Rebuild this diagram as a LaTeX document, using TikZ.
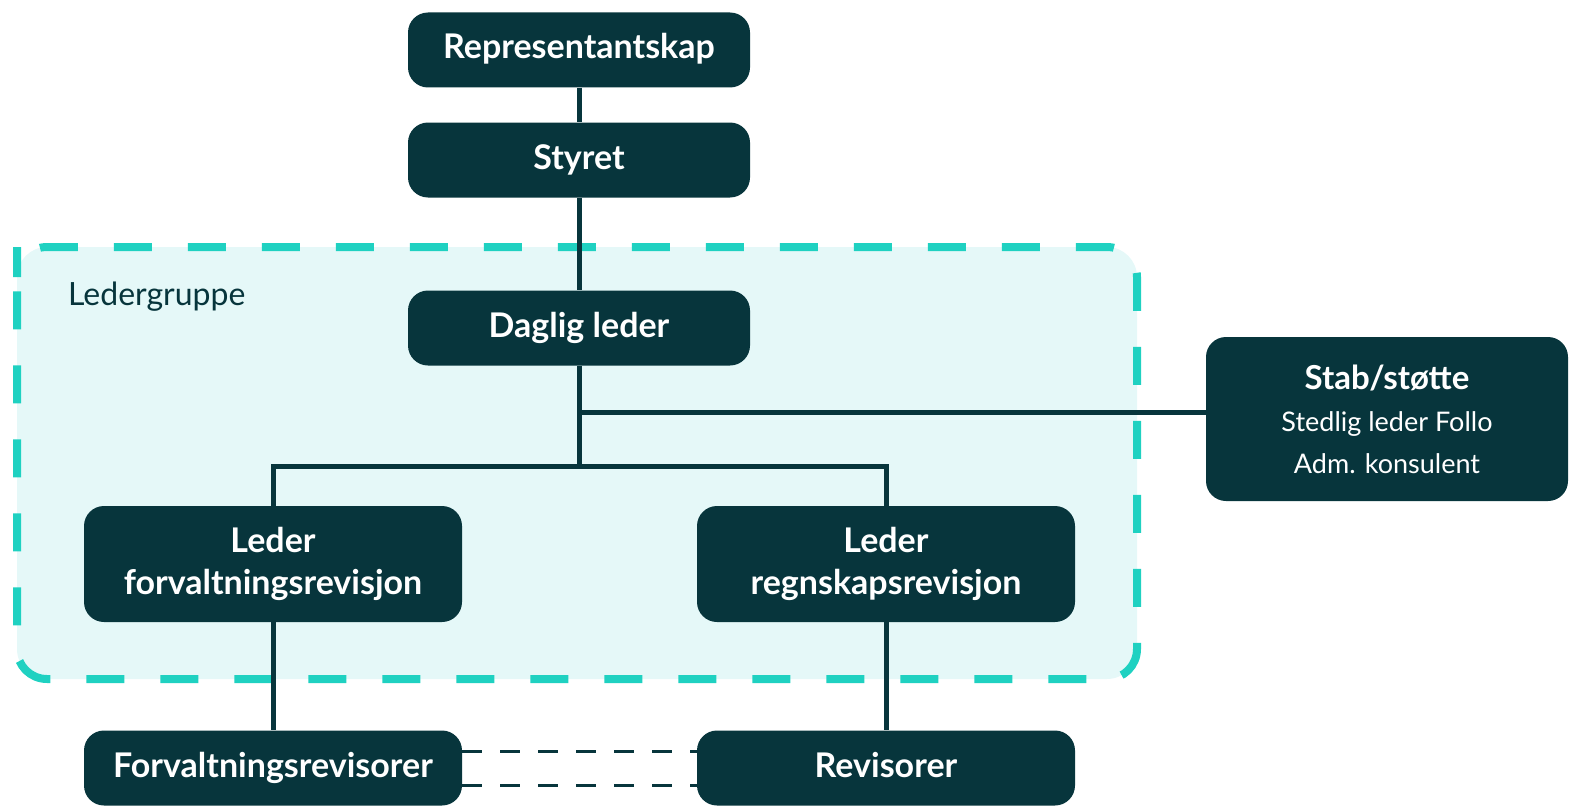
\documentclass[tikz,border=0pt]{standalone}
\usepackage{fontspec}
\setmainfont{Lato}
\definecolor{dark}{HTML}{07353C}
\definecolor{teal}{HTML}{1FD1C1}
\definecolor{lightfill}{HTML}{E5F8F8}
\begin{document}
\begin{tikzpicture}[x=1pt,y=-1pt,
  box/.style={fill=dark,rounded corners=20pt,text=white,font=\fontsize{34}{42}\selectfont\bfseries,align=center,inner sep=0pt},
  onebox/.style={box,text height=25pt,text depth=7pt},
  smallbox/.style={onebox,minimum width=342pt,minimum height=75pt},
  midbox/.style={box,minimum width=378pt,minimum height=116pt},
  lowbox/.style={onebox,minimum width=378pt,minimum height=75pt},
  conn/.style={draw=dark,line width=5pt},
  dconn/.style={draw=dark,line width=3pt,dash pattern=on 20pt off 18pt}]
\useasboundingbox (0,0) rectangle (1575,808);
% Ledergruppe group
\path[fill=lightfill,rounded corners=30pt] (17,277) -- (17,247) -- (1137,247) -- (1137,679) -- (17,679) -- cycle;
\draw[teal,line width=8pt,rounded corners=30pt,dash pattern=on 38pt off 36pt,dash phase=4pt] (17,277) -- (17,247) -- (1137,247) -- (1137,679) -- (17,679) -- cycle;
\node[anchor=west,text=dark,font=\fontsize{32}{36}\selectfont,inner sep=0pt] (lg) at (68,297) {Ledergruppe};
% nodes
\node[smallbox] (rep) at (579,50) {Representantskap};
\node[smallbox] (sty) at (579,160) {Styret};
\node[smallbox] (dag) at (579,328) {Daglig leder};
\node[box,minimum width=362pt,minimum height=164pt] (stab) at (1387,419)
  {{\fontsize{33}{39}\selectfont\bfseries Stab/støtte}\\
   {\fontsize{27}{39}\selectfont\mdseries Stedlig leder Follo}\\
   {\fontsize{27}{39}\selectfont\mdseries Adm. konsulent}};
\node[midbox] (lf) at (273,564) {Leder\\forvaltningsrevisjon};
\node[midbox] (lr) at (886,564) {Leder\\regnskapsrevisjon};
\node[lowbox] (fr) at (273,768) {Forvaltningsrevisorer};
\node[lowbox] (rv) at (886,768) {Revisorer};
% junctions
\coordinate (j1) at (579,412);
\coordinate (j2) at (579,466);
% connectors
\draw[conn] (rep.south) -- (sty.north);
\draw[conn] (sty.south) -- (dag.north);
\draw[conn] (dag.south) -- (j2);
\draw[conn] (j1) -- (j1 -| stab.west);
\draw[conn] (lf.north) |- (j2) -| (lr.north);
\draw[conn] (lf.south) -- (fr.north);
\draw[conn] (lr.south) -- (rv.north);
\draw[dconn] ([yshift=-17pt]fr.east) -- ([yshift=-17pt]fr.east -| rv.west);
\draw[dconn] ([yshift=17pt]fr.east) -- ([yshift=17pt]fr.east -| rv.west);
\end{tikzpicture}
\end{document}
